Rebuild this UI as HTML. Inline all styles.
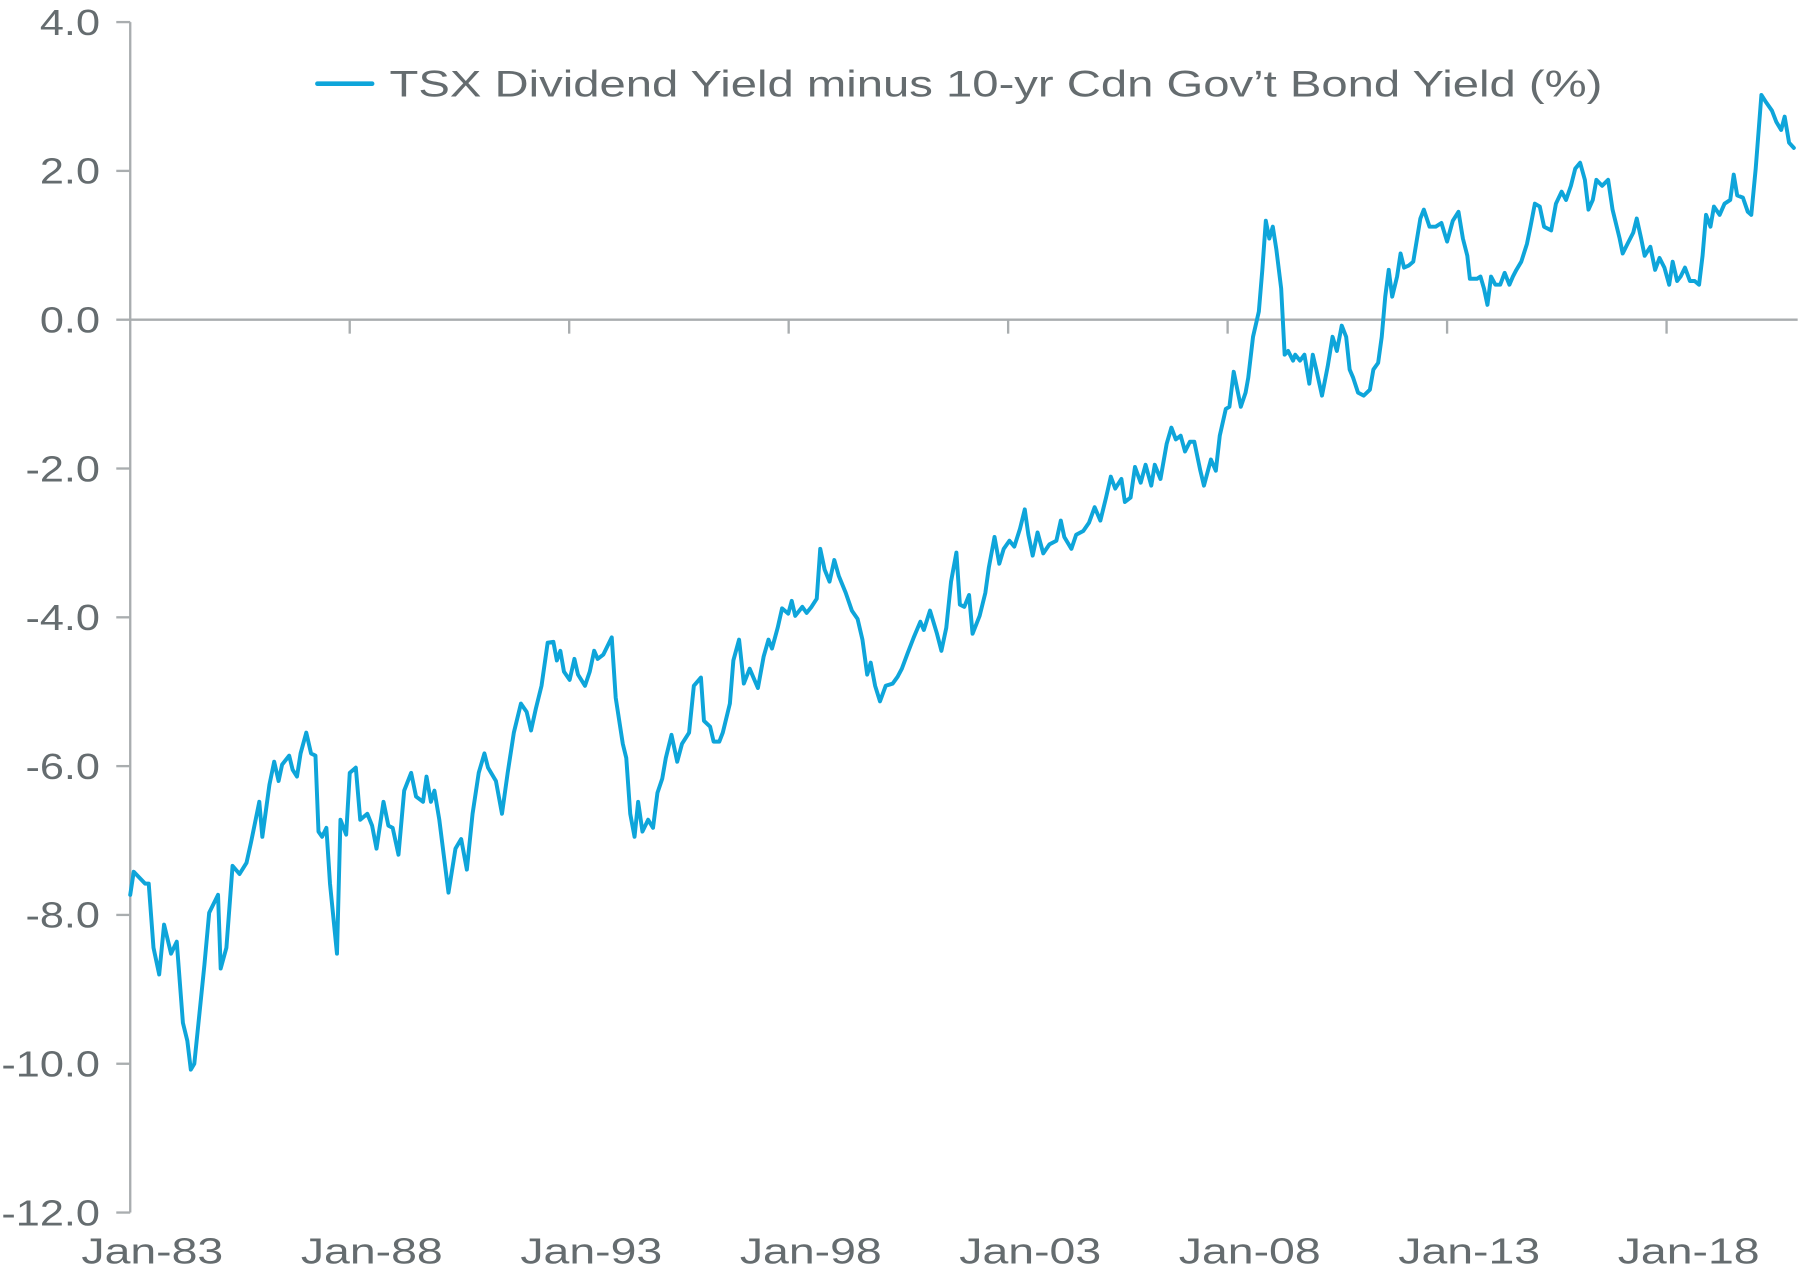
<!DOCTYPE html>
<html><head><meta charset="utf-8"><style>
html,body{margin:0;padding:0;background:#fff;}
svg{display:block;}
text{font-family:"Liberation Sans",sans-serif;fill:#656c6f;}
</style></head><body>
<svg id="chart" width="1800" height="1273" viewBox="0 0 1548 1095" preserveAspectRatio="none" xmlns="http://www.w3.org/2000/svg">
<g id="axes"></g>
<g id="series"></g>
<g>
<line x1="273" y1="72" x2="320" y2="72" stroke="#0ea5da" stroke-width="4" stroke-linecap="round"/>
<text x="335" y="83" font-size="32" textLength="1043" lengthAdjust="spacingAndGlyphs">TSX Dividend Yield minus 10-yr Cdn Gov’t Bond Yield (%)</text>
</g>
</svg>
<script>
const yTicks=[4,2,0,-2,-4,-6,-8,-10,-12];
const yTickLabels=["4.0","2.0","0.0","-2.0","-4.0","-6.0","-8.0","-10.0","-12.0"];
const xTickYears=[1983,1988,1993,1998,2003,2008,2013,2018];
const xTickLabels=["Jan-83","Jan-88","Jan-93","Jan-98","Jan-03","Jan-08","Jan-13","Jan-18"];
const dates=[1983.0,1983.08,1983.34,1983.42,1983.53,1983.66,1983.77,1983.93,1984.06,1984.2,1984.3,1984.38,1984.46,1984.56,1984.69,1984.8,1985.0,1985.06,1985.19,1985.33,1985.49,1985.65,1985.75,1985.94,1986.01,1986.17,1986.28,1986.38,1986.46,1986.62,1986.7,1986.8,1986.88,1987.01,1987.12,1987.22,1987.29,1987.37,1987.47,1987.55,1987.71,1987.79,1987.92,1988.0,1988.14,1988.24,1988.4,1988.51,1988.61,1988.77,1988.88,1988.98,1989.11,1989.24,1989.4,1989.51,1989.67,1989.75,1989.85,1989.93,1990.04,1990.25,1990.41,1990.54,1990.67,1990.8,1990.94,1991.07,1991.15,1991.33,1991.47,1991.6,1991.74,1991.9,1992.03,1992.13,1992.24,1992.37,1992.51,1992.64,1992.72,1992.8,1992.88,1993.01,1993.12,1993.2,1993.36,1993.47,1993.57,1993.65,1993.78,1993.97,1994.06,1994.22,1994.3,1994.39,1994.49,1994.57,1994.67,1994.8,1994.91,1995.01,1995.12,1995.2,1995.33,1995.46,1995.57,1995.73,1995.84,1996.0,1996.07,1996.21,1996.29,1996.42,1996.5,1996.66,1996.74,1996.87,1996.98,1997.11,1997.3,1997.43,1997.54,1997.62,1997.75,1997.85,1997.99,1998.07,1998.15,1998.31,1998.41,1998.52,1998.64,1998.72,1998.82,1998.93,1999.04,1999.14,1999.3,1999.44,1999.57,1999.68,1999.79,1999.87,1999.97,2000.08,2000.21,2000.37,2000.48,2000.58,2000.71,2000.85,2001.0,2001.08,2001.22,2001.38,2001.48,2001.59,2001.7,2001.82,2001.9,2002.0,2002.11,2002.19,2002.35,2002.48,2002.56,2002.69,2002.8,2002.9,2003.03,2003.14,2003.27,2003.38,2003.46,2003.56,2003.67,2003.8,2003.94,2004.1,2004.2,2004.28,2004.44,2004.55,2004.71,2004.84,2004.97,2005.1,2005.23,2005.34,2005.44,2005.58,2005.66,2005.79,2005.89,2006.02,2006.13,2006.26,2006.34,2006.47,2006.61,2006.72,2006.82,2006.93,2007.03,2007.14,2007.24,2007.38,2007.46,2007.62,2007.73,2007.82,2007.96,2008.04,2008.14,2008.3,2008.41,2008.47,2008.58,2008.71,2008.79,2008.87,2008.95,2009.03,2009.11,2009.22,2009.3,2009.38,2009.49,2009.54,2009.65,2009.75,2009.86,2009.94,2010.02,2010.15,2010.28,2010.39,2010.49,2010.6,2010.7,2010.78,2010.86,2010.97,2011.1,2011.24,2011.32,2011.43,2011.51,2011.59,2011.67,2011.75,2011.86,2011.94,2012.02,2012.13,2012.23,2012.39,2012.47,2012.6,2012.74,2012.87,2013.0,2013.13,2013.26,2013.36,2013.46,2013.52,2013.68,2013.76,2013.84,2013.92,2014.0,2014.1,2014.21,2014.31,2014.42,2014.5,2014.58,2014.69,2014.82,2014.9,2015.0,2015.11,2015.21,2015.37,2015.48,2015.61,2015.71,2015.82,2015.92,2016.03,2016.14,2016.22,2016.32,2016.4,2016.53,2016.67,2016.77,2016.93,2017.0,2017.11,2017.24,2017.32,2017.42,2017.5,2017.63,2017.74,2017.84,2017.95,2018.06,2018.14,2018.24,2018.32,2018.42,2018.53,2018.64,2018.74,2018.82,2018.9,2019.0,2019.08,2019.21,2019.32,2019.45,2019.53,2019.61,2019.74,2019.85,2019.93,2020.03,2020.16,2020.27,2020.4,2020.5,2020.61,2020.69,2020.79,2020.9];
const values=[-7.73,-7.42,-7.58,-7.58,-8.44,-8.8,-8.13,-8.52,-8.36,-9.45,-9.69,-10.08,-10.0,-9.42,-8.67,-7.97,-7.73,-8.72,-8.44,-7.34,-7.45,-7.3,-7.03,-6.48,-6.95,-6.25,-5.94,-6.2,-5.98,-5.86,-6.05,-6.14,-5.83,-5.55,-5.83,-5.86,-6.88,-6.95,-6.83,-7.58,-8.52,-6.72,-6.92,-6.09,-6.02,-6.72,-6.64,-6.8,-7.11,-6.48,-6.8,-6.83,-7.19,-6.33,-6.09,-6.41,-6.48,-6.14,-6.48,-6.33,-6.72,-7.7,-7.11,-6.98,-7.39,-6.64,-6.09,-5.83,-6.02,-6.2,-6.64,-6.09,-5.55,-5.16,-5.27,-5.52,-5.23,-4.92,-4.34,-4.33,-4.58,-4.45,-4.73,-4.84,-4.56,-4.77,-4.92,-4.73,-4.45,-4.56,-4.5,-4.27,-5.08,-5.7,-5.89,-6.64,-6.95,-6.48,-6.88,-6.72,-6.83,-6.36,-6.17,-5.89,-5.58,-5.94,-5.7,-5.55,-4.92,-4.81,-5.39,-5.47,-5.67,-5.67,-5.55,-5.16,-4.58,-4.3,-4.89,-4.69,-4.95,-4.53,-4.3,-4.42,-4.14,-3.88,-3.95,-3.78,-3.98,-3.86,-3.94,-3.86,-3.75,-3.08,-3.36,-3.52,-3.23,-3.44,-3.67,-3.91,-4.02,-4.3,-4.77,-4.61,-4.92,-5.13,-4.92,-4.89,-4.8,-4.69,-4.48,-4.27,-4.06,-4.17,-3.91,-4.22,-4.45,-4.14,-3.52,-3.13,-3.83,-3.86,-3.7,-4.22,-3.98,-3.67,-3.33,-2.92,-3.28,-3.08,-2.97,-3.05,-2.81,-2.55,-2.89,-3.17,-2.86,-3.14,-3.02,-2.97,-2.7,-2.92,-3.08,-2.89,-2.84,-2.73,-2.52,-2.7,-2.39,-2.11,-2.27,-2.14,-2.45,-2.39,-1.98,-2.19,-1.95,-2.23,-1.95,-2.14,-1.67,-1.45,-1.61,-1.56,-1.77,-1.64,-1.64,-2.03,-2.23,-1.88,-2.03,-1.56,-1.2,-1.17,-0.7,-1.17,-0.98,-0.78,-0.23,0.11,0.67,1.33,1.09,1.25,0.94,0.42,-0.47,-0.42,-0.55,-0.47,-0.55,-0.47,-0.86,-0.47,-0.67,-1.02,-0.63,-0.23,-0.42,-0.08,-0.23,-0.67,-0.78,-0.98,-1.02,-0.94,-0.67,-0.58,-0.23,0.31,0.67,0.31,0.58,0.89,0.7,0.73,0.78,1.36,1.48,1.25,1.25,1.3,1.05,1.33,1.45,1.09,0.86,0.55,0.55,0.58,0.42,0.2,0.58,0.47,0.47,0.63,0.47,0.58,0.67,0.78,1.02,1.25,1.56,1.52,1.25,1.2,1.56,1.72,1.61,1.8,2.03,2.11,1.88,1.48,1.61,1.88,1.8,1.88,1.48,1.09,0.89,1.02,1.17,1.36,1.09,0.86,0.98,0.67,0.83,0.7,0.47,0.78,0.52,0.58,0.7,0.52,0.52,0.47,0.86,1.41,1.25,1.52,1.41,1.56,1.61,1.95,1.67,1.64,1.45,1.41,2.03,3.02,2.92,2.81,2.66,2.55,2.73,2.38,2.31];

const NS="http://www.w3.org/2000/svg";
const X0=112, YEAR0=1983, PXY=37.75;
const Y4=19, PXU=64;
function xs(y){return X0+(y-YEAR0)*PXY;}
function ys(v){return Y4+(4-v)*PXU;}
function mk(tag,attrs,parent){const e=document.createElementNS(NS,tag);for(const k in attrs)e.setAttribute(k,attrs[k]);parent.appendChild(e);return e;}
const axes=document.getElementById('axes');
const gray="#a9adaf";
const yAxis=mk('line',{x1:X0,y1:ys(4),x2:X0,y2:ys(-12),stroke:gray,'stroke-width':2},axes);


const zero=mk('line',{x1:X0,y1:ys(0),x2:1546,y2:ys(0),stroke:gray,'stroke-width':2},axes);


yTicks.forEach((v,i)=>{
  const t=mk('line',{x1:X0-12,y1:ys(v),x2:X0,y2:ys(v),stroke:gray,'stroke-width':2},axes);
  
  
  const l=mk('text',{x:86,y:ys(v)+11,'font-size':31,'text-anchor':'end'},axes);
  l.textContent=yTickLabels[i];
  
  
  const w=l.getComputedTextLength();
  l.setAttribute('textLength',(w*1.2).toFixed(1));
  l.setAttribute('lengthAdjust','spacingAndGlyphs');
});
xTickYears.forEach((y,i)=>{
  if(i>0){
    const t=mk('line',{x1:xs(y),y1:ys(0),x2:xs(y),y2:ys(0)+12,stroke:gray,'stroke-width':2},axes);
    
    
  }
  const l=mk('text',{x:xs(y)+19,y:1087,'font-size':31,'text-anchor':'middle',textLength:122,lengthAdjust:'spacingAndGlyphs'},axes);
  l.textContent=xTickLabels[i];
  
  
});
const pts=dates.map((d,i)=>xs(d).toFixed(1)+','+ys(values[i]).toFixed(1)).join(' ');
const line=mk('polyline',{points:pts,fill:'none',stroke:'#0ea5da','stroke-width':3.4,'stroke-linejoin':'round','stroke-linecap':'round'},document.getElementById('series'));


</script>
</body></html>
